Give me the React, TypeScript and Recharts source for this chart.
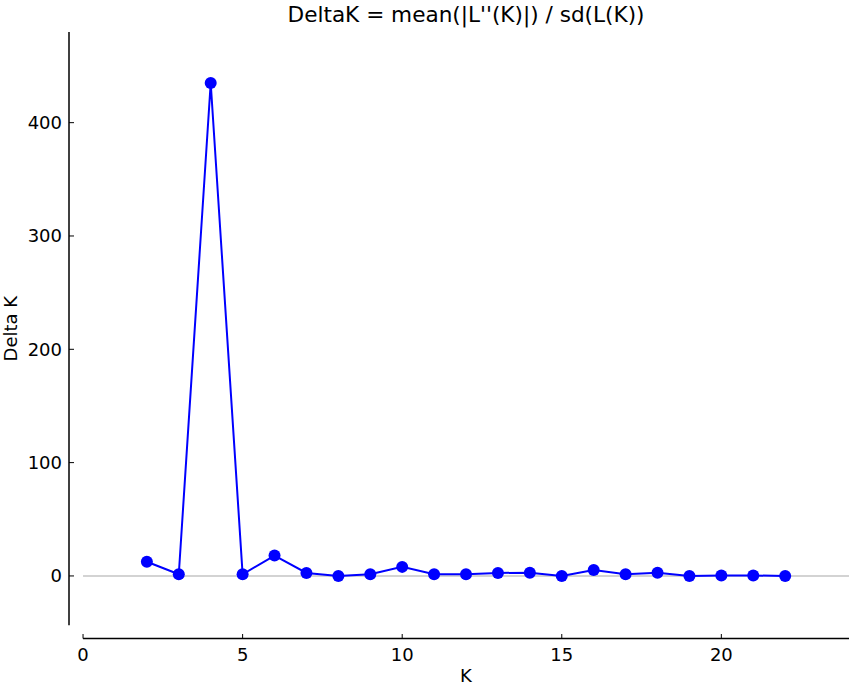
import React from 'react';
import { LineChart, Line, XAxis, YAxis, ReferenceLine } from 'recharts';

// K values and the Delta K
const kValues = [2, 3, 4, 5, 6, 7, 8, 9, 10, 11, 12, 13, 14, 15, 16, 17, 18, 19, 20, 21, 22];
const deltaK = [12.5, 1.5, 435, 1.5, 18, 2.6, 0, 1.5, 8, 1.5, 1.5, 2.6, 2.9, 0, 5.3, 1.5, 2.9, 0, 0.4, 0.4, 0];

const xTicks = [0, 5, 10, 15, 20];
const yTicks = [0, 100, 200, 300, 400];

const data = kValues.map((k, i) => ({ k, deltaK: deltaK[i] }));

// axis ranges (spines are offset from each other, matplotlib style)
const X_DOMAIN: [number, number] = [-0.44, 24];
const Y_DOMAIN: [number, number] = [-55.2, 480];
const Y_SPINE_BOTTOM = -43.5;

const FONT = '"DejaVu Sans", Verdana, sans-serif';

const XTick = (props: any) => {
  const { x, y, payload } = props;
  return (
    <g>
      <line x1={x} x2={x} y1={y} y2={y - 4.5} stroke="#000" strokeWidth={1} />
      <text x={x} y={y + 22.5} textAnchor="middle" fontFamily={FONT} fontSize={18} fill="#000">
        {payload.value}
      </text>
    </g>
  );
};

const YTick = (props: any) => {
  const { x, y, payload } = props;
  return (
    <g>
      <line x1={x} x2={x + 5} y1={y} y2={y} stroke="#000" strokeWidth={1} />
      <text x={x - 7} y={y + 6.5} textAnchor="end" fontFamily={FONT} fontSize={18} fill="#000">
        {payload.value}
      </text>
    </g>
  );
};

const App: React.FC = () => {
  return (
    <div style={{ position: 'absolute', left: 0, top: 0, width: 856, height: 688, background: '#fff' }}>
      <LineChart width={856} height={688} data={data} margin={{ top: 32, right: 7, bottom: 0, left: 0 }}>
        <XAxis
          dataKey="k"
          type="number"
          domain={X_DOMAIN}
          allowDataOverflow
          ticks={xTicks}
          interval={0}
          axisLine={false}
          tickLine={false}
          tickSize={0}
          tickMargin={0}
          height={49.5}
          tick={<XTick />}
        />
        <YAxis
          type="number"
          domain={Y_DOMAIN}
          allowDataOverflow
          ticks={yTicks}
          interval={0}
          axisLine={false}
          tickLine={false}
          tickSize={0}
          tickMargin={0}
          width={69}
          tick={<YTick />}
        />

        {/* zero line */}
        <ReferenceLine
          segment={[{ x: 0, y: 0 }, { x: X_DOMAIN[1], y: 0 }]}
          stroke="#c4c4c4"
          strokeWidth={1.5}
          ifOverflow="visible"
        />
        {/* left spine */}
        <ReferenceLine
          segment={[{ x: X_DOMAIN[0], y: Y_SPINE_BOTTOM }, { x: X_DOMAIN[0], y: Y_DOMAIN[1] }]}
          stroke="#000"
          strokeWidth={1.5}
          ifOverflow="visible"
        />
        {/* bottom spine */}
        <ReferenceLine
          segment={[{ x: 0, y: Y_DOMAIN[0] }, { x: X_DOMAIN[1], y: Y_DOMAIN[0] }]}
          stroke="#000"
          strokeWidth={1.5}
          ifOverflow="visible"
        />

        <Line
          type="linear"
          dataKey="deltaK"
          stroke="#0000ff"
          strokeWidth={2}
          dot={{ r: 6, fill: '#0000ff', stroke: '#0000ff', strokeWidth: 0 }}
          activeDot={false}
          isAnimationActive={false}
        />
      </LineChart>

      <svg
        width={856}
        height={688}
        style={{ position: 'absolute', left: 0, top: 0, pointerEvents: 'none' }}
      >
        <text x={466} y={22} textAnchor="middle" fontFamily={FONT} fontSize={21.6} fill="#000">
          DeltaK = mean(|L''(K)|) / sd(L(K))
        </text>
        <text
          x={17}
          y={328.6}
          textAnchor="middle"
          transform="rotate(-90, 17, 328.6)"
          fontFamily={FONT}
          fontSize={18}
          fill="#000"
        >
          Delta K
        </text>
        <text x={466} y={682} textAnchor="middle" fontFamily={FONT} fontSize={18} fill="#000">
          K
        </text>
      </svg>
    </div>
  );
};

export default App;
